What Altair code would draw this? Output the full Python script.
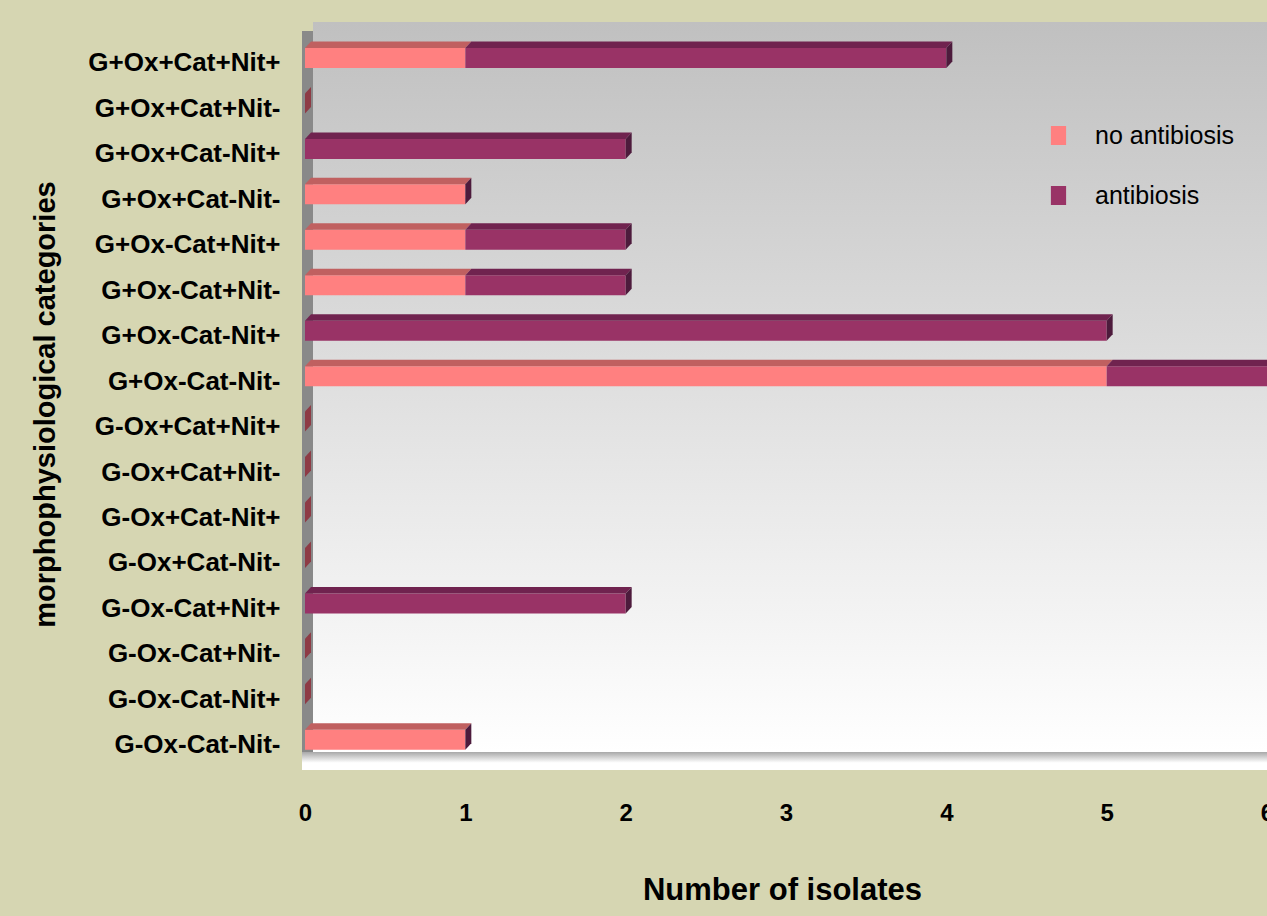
import altair as alt
import pandas as pd

# ---- data (top row first) ----
categories = [
    "G+Ox+Cat+Nit+", "G+Ox+Cat+Nit-", "G+Ox+Cat-Nit+", "G+Ox+Cat-Nit-",
    "G+Ox-Cat+Nit+", "G+Ox-Cat+Nit-", "G+Ox-Cat-Nit+", "G+Ox-Cat-Nit-",
    "G-Ox+Cat+Nit+", "G-Ox+Cat+Nit-", "G-Ox+Cat-Nit+", "G-Ox+Cat-Nit-",
    "G-Ox-Cat+Nit+", "G-Ox-Cat+Nit-", "G-Ox-Cat-Nit+", "G-Ox-Cat-Nit-",
]
no_antibiosis = [1, 0, 0, 1, 1, 1, 0, 5, 0, 0, 0, 0, 0, 0, 0, 1]
antibiosis    = [3, 0, 2, 0, 1, 1, 5, 1, 0, 0, 0, 0, 2, 0, 0, 0]
series_names = ["no antibiosis", "antibiosis"]
x_ticks = [0, 1, 2, 3, 4, 5, 6]

# ---- style ----
FONT = "Liberation Sans"
BG = "#D6D6B2"
FRONT = {"no antibiosis": "#FF8080", "antibiosis": "#993366"}
TOP = {"no antibiosis": "#C06060", "antibiosis": "#70234F"}
SIDE = "#4D1B3C"
SIDE_ZERO = "#8E3B45"

W, HP = 962, 748
X_MAX = 6
Y_MIN, Y_MAX = -0.6655, 15.792
px_x = W / X_MAX
px_y = HP / (Y_MAX - Y_MIN)
DX = 6 / px_x        # depth offset in x (data units)
DY = 6.5 / px_y      # depth offset in y
HH = 10 / px_y       # half height of bar front

n = len(categories)
front, top, side = [], [], []
for i, cat in enumerate(categories):
    v = n - 1 - i
    a, b = no_antibiosis[i], antibiosis[i]
    for s0, s1, name in [(0, a, series_names[0]), (a, a + b, series_names[1])]:
        if s1 > s0:
            front.append(dict(x0=s0, x1=s1, y0=v - HH, y1=v + HH, series=name))
            fid = f"{i}-{name}"
            top.append(dict(y=v + HH, xa=s0, xb=s1, face=fid, fill=TOP[name]))
            top.append(dict(y=v + HH + DY, xa=s0 + DX, xb=s1 + DX, face=fid, fill=TOP[name]))
    tot = a + b
    col = SIDE if tot > 0 else SIDE_ZERO
    side.append(dict(x=tot, ya=v - HH, yb=v + HH, face=str(i), fill=col))
    side.append(dict(x=tot + DX, ya=v - HH + DY, yb=v + HH + DY, face=str(i), fill=col))

front_df = pd.DataFrame(front)
top_df = pd.DataFrame(top)
side_df = pd.DataFrame(side)

xscale = alt.Scale(domain=[0, X_MAX], nice=False, zero=False)
yscale = alt.Scale(domain=[Y_MIN, Y_MAX], nice=False, zero=False)

label_expr = "[" + ",".join(f"'{c}'" for c in reversed(categories)) + "][datum.value]"

x_axis = alt.Axis(
    values=x_ticks, format="d", title="Number of isolates", grid=False, ticks=False,
    domain=False, labelFlush=False, labelFontSize=24, labelFontWeight="bold",
    labelFont=FONT, labelColor="black", labelPadding=31,
    titleFontSize=31, titleFontWeight="bold", titleFont=FONT, titleColor="black",
    titleX=477, titleY=129, titleBaseline="alphabetic",
)
y_axis = alt.Axis(
    values=list(range(n)), labelExpr=label_expr, title="morphophysiological categories",
    grid=False, ticks=False, domain=False, labelFontSize=26, labelFontWeight="bold",
    labelFont=FONT, labelColor="black", labelPadding=25, labelOffset=5, labelLimit=400,
    titleFontSize=29, titleFontWeight="bold", titleFont=FONT, titleColor="black",
    titleX=-251, titleY=382, titleBaseline="alphabetic", titleAlign="center", titleAngle=270,
)

one = alt.Data(values=[{}])

back_wall = alt.Chart(one).mark_rect(
    fill=alt.Gradient(gradient="linear", x1=0, x2=0, y1=0, y2=1,
                      stops=[alt.GradientStop(color="#C0C0C0", offset=0),
                             alt.GradientStop(color="#FFFFFF", offset=1)])
).encode(x=alt.value(8), x2=alt.value(W), y=alt.value(0), y2=alt.value(730))

floor = alt.Chart(one).mark_rect(
    fill=alt.Gradient(gradient="linear", x1=0, x2=0, y1=0, y2=1,
                      stops=[alt.GradientStop(color="#A8A8A8", offset=0),
                             alt.GradientStop(color="#FFFFFF", offset=0.6),
                             alt.GradientStop(color="#FFFFFF", offset=1)])
).encode(x=alt.value(-3), x2=alt.value(W), y=alt.value(730), y2=alt.value(748))

left_wall = alt.Chart(one).mark_rect(fill="#898989").encode(
    x=alt.value(-3), x2=alt.value(8), y=alt.value(9), y2=alt.value(730))

fronts = alt.Chart(front_df).mark_rect().encode(
    x=alt.X("x0:Q", scale=xscale, axis=x_axis),
    x2="x1:Q",
    y=alt.Y("y0:Q", scale=yscale, axis=y_axis),
    y2="y1:Q",
    color=alt.Color("series:N",
                    scale=alt.Scale(domain=series_names,
                                    range=[FRONT[s] for s in series_names]),
                    legend=alt.Legend(orient="none", legendX=741, legendY=101, title=None,
                                      symbolType="M-0.8,-1H0.8V1H-0.8Z", symbolSize=361,
                                      symbolStrokeWidth=0, labelFontSize=25, labelFont=FONT,
                                      labelColor="black", labelOffset=24, rowPadding=34,
                                      padding=0, labelLimit=400)),
)

tops = alt.Chart(top_df).mark_area(orient="horizontal").encode(
    y=alt.Y("y:Q", scale=yscale, axis=y_axis),
    x=alt.X("xa:Q", scale=xscale, axis=x_axis),
    x2="xb:Q",
    detail="face:N",
    fill=alt.Fill("fill:N", scale=None),
)

sides = alt.Chart(side_df).mark_area(orient="vertical").encode(
    x=alt.X("x:Q", scale=xscale, axis=x_axis),
    y=alt.Y("ya:Q", scale=yscale, axis=y_axis),
    y2="yb:Q",
    detail="face:N",
    fill=alt.Fill("fill:N", scale=None),
)

chart = alt.layer(back_wall, floor, left_wall, fronts, tops, sides).properties(
    width=W, height=HP,
    autosize=alt.AutoSizeParams(type="none"),
    padding={"left": 305, "top": 22, "right": 0, "bottom": 146},
    background=BG,
).configure_view(stroke=None)

chart.save("out.html", embed_options={"renderer": "svg", "actions": False})
